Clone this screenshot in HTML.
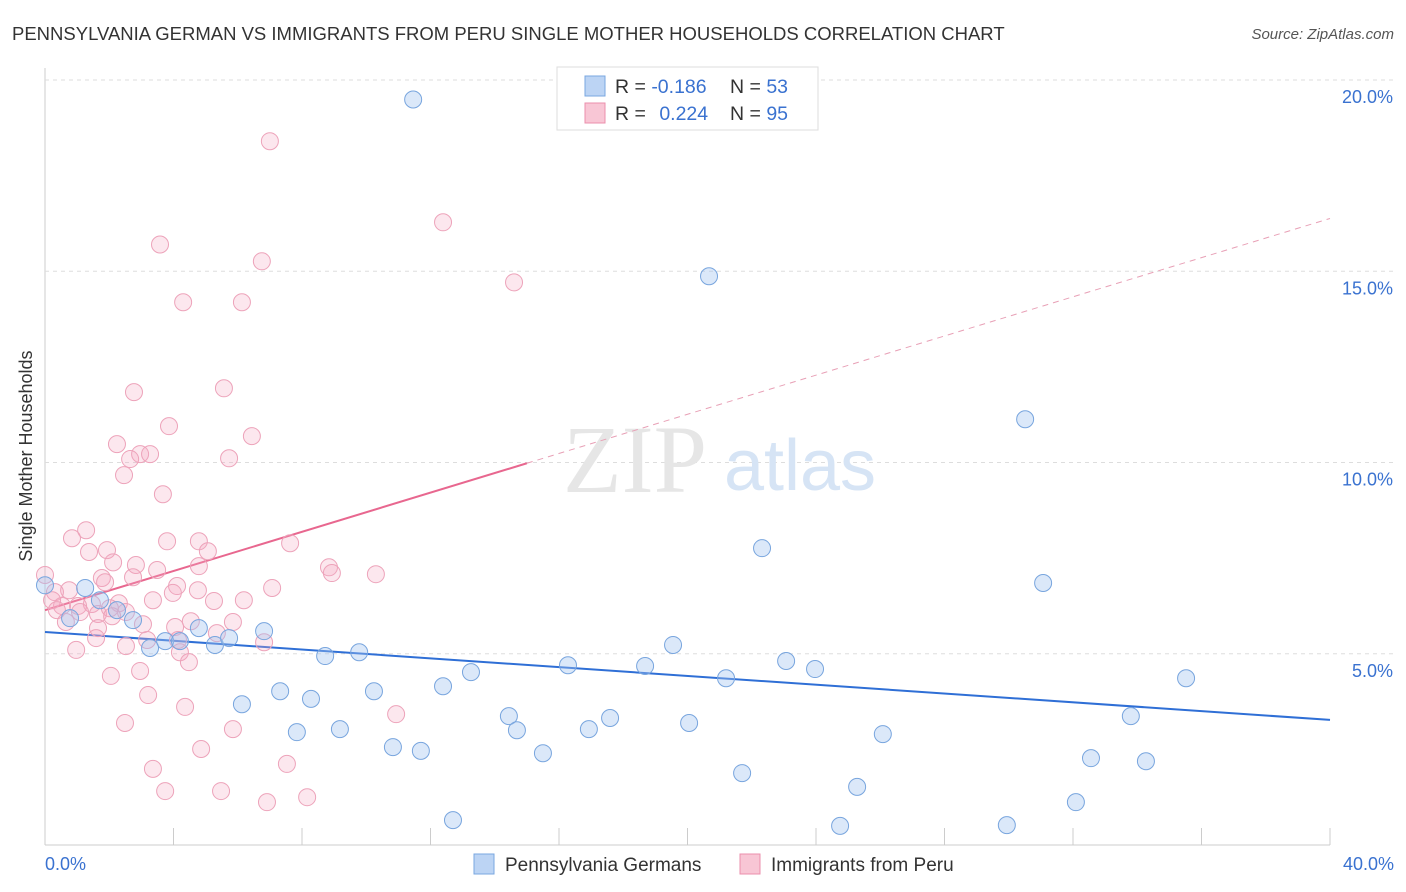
<!DOCTYPE html>
<html><head><meta charset="utf-8">
<style>
body{margin:0;background:#fff;font-family:"Liberation Sans",sans-serif;}
svg{display:block}
</style></head>
<body>
<svg id="chart" width="1406" height="892">
<text x="12" y="40" font-size="18.5" fill="#333">PENNSYLVANIA GERMAN VS IMMIGRANTS FROM PERU SINGLE MOTHER HOUSEHOLDS CORRELATION CHART</text>
<text x="1394" y="39" font-size="15" fill="#555" font-style="italic" text-anchor="end">Source: ZipAtlas.com</text>
<text x="32" y="456" font-size="18" fill="#333" text-anchor="middle" transform="rotate(-90 32 456)">Single Mother Households</text>
<g id="grid"></g>
<g>
<text x="635" y="492" font-size="96" fill="#e6e6e6" font-family="Liberation Serif,serif" text-anchor="middle">ZIP</text>
<text x="800" y="490" font-size="72" fill="#d6e4f5" text-anchor="middle">atlas</text>
</g>
<g id="lines"></g>
<g id="points"></g>
<g>
<rect x="557" y="67" width="261" height="63" fill="#fff" stroke="#ddd"/>
<rect x="585" y="76" width="20" height="20" fill="#bcd4f4" stroke="#7aa7e0"/>
<rect x="585" y="103" width="20" height="20" fill="#f8c6d5" stroke="#eb8fac"/>
<text x="615" y="93" font-size="19.5" fill="#333">R = <tspan fill="#3a72d0">-0.186</tspan></text>
<text x="730" y="93" font-size="19.5" fill="#333">N = <tspan fill="#3a72d0">53</tspan></text>
<text x="615" y="120" font-size="19.5" fill="#333">R = <tspan fill="#3a72d0" dx="8">0.224</tspan></text>
<text x="730" y="120" font-size="19.5" fill="#333">N = <tspan fill="#3a72d0">95</tspan></text>
</g>
<g>
<rect x="474" y="854" width="20" height="20" fill="#bcd4f4" stroke="#7aa7e0"/>
<text x="505" y="871" font-size="19" fill="#333">Pennsylvania Germans</text>
<rect x="740" y="854" width="20" height="20" fill="#f8c6d5" stroke="#eb8fac"/>
<text x="771" y="871" font-size="19" fill="#333">Immigrants from Peru</text>
</g>
<text x="45" y="870" font-size="18" fill="#3a72d0">0.0%</text>
<text x="1394" y="870" font-size="18" fill="#3a72d0" text-anchor="end">40.0%</text>
</svg>
<script>
const yTicks=[5,10,15,20];
const yTickLabels=["5.0%","10.0%","15.0%","20.0%"];
const xTicks=[0,4,8,12,16,20,24,28,32,36,40];
const blueX=[11.46,20.67,30.51,22.32,31.07,0,1.25,1.71,2.24,2.74,0.78,3.74,4.2,4.79,5.29,5.73,6.82,3.27,8.72,9.78,19.55,16.28,18.68,23.07,23.97,13.26,21.2,12.39,35.52,7.32,8.28,10.24,6.13,14.44,17.59,33.8,7.84,9.18,14.69,16.93,20.05,26.08,10.83,11.7,15.5,32.56,34.27,21.7,25.28,32.09,12.7,24.75,29.94];
const blueY=[19.49,14.87,11.13,7.76,6.85,6.79,6.72,6.4,6.14,5.88,5.93,5.33,5.33,5.67,5.23,5.41,5.59,5.15,4.94,5.04,5.23,4.7,4.68,4.81,4.6,4.52,4.36,4.15,4.36,4.02,3.82,4.02,3.68,3.37,3.32,3.37,2.95,3.03,3,3.03,3.19,2.9,2.56,2.46,2.4,2.27,2.19,1.88,1.52,1.12,0.65,0.5,0.52];
const pinkX=[7,12.39,3.58,6.75,14.6,4.3,6.13,2.77,5.57,3.86,6.44,2.24,2.96,3.27,2.65,5.73,2.46,3.67,1.28,0.84,3.8,4.79,7.63,1.37,1.93,5.07,2.83,2.12,4.79,8.84,3.49,10.3,8.93,0,1.77,2.74,1.87,4.11,0.75,7.07,0.31,4.76,3.98,0.22,6.19,5.26,3.36,2.3,1.46,0.53,1.03,0.37,2.52,1.65,2.02,1.09,0.65,3.05,4.05,4.54,5.85,1.65,2.09,1.59,3.18,2.52,4.14,5.35,6.82,4.2,0.97,4.48,2.96,2.05,3.21,4.36,10.93,2.49,5.85,4.86,7.53,3.36,3.74,5.48,8.16,6.91];
const pinkY=[18.4,16.28,15.7,15.26,14.71,14.19,14.19,11.84,11.94,10.95,10.69,10.48,10.22,10.22,10.09,10.11,9.67,9.17,8.23,8.02,7.94,7.94,7.89,7.66,7.71,7.68,7.32,7.39,7.29,7.26,7.19,7.08,7.11,7.06,6.98,7,6.87,6.77,6.66,6.72,6.61,6.66,6.59,6.4,6.4,6.38,6.4,6.32,6.3,6.25,6.25,6.14,6.09,6.04,6.19,6.09,5.83,5.77,5.7,5.85,5.83,5.67,5.98,5.41,5.36,5.2,5.36,5.54,5.3,5.04,5.1,4.78,4.55,4.42,3.92,3.61,3.42,3.19,3.03,2.51,2.12,1.99,1.41,1.41,1.25,1.12];
const blueTrend=[5.57,3.27];
const pinkTrend=[6.14,16.38];
const pinkSolidEnd=15;
const NS="http://www.w3.org/2000/svg";
const sx=v=>45+v/40*1285;
const sy=v=>845-v/5*191.25;
function mk(tag,attrs,parent){const e=document.createElementNS(NS,tag);for(const k in attrs)e.setAttribute(k,attrs[k]);parent.appendChild(e);return e;}
const grid=document.getElementById('grid');
const ax=mk('line',{x1:45,y1:68,x2:45,y2:845,stroke:'#ccc'},grid);


const bx=mk('line',{x1:45,y1:845,x2:1330,y2:845,stroke:'#ccc'},grid);


yTicks.forEach((t,i)=>{
 const g=mk('line',{x1:45,x2:1394,y1:sy(t),y2:sy(t),stroke:'#ddd','stroke-dasharray':'4,4'},grid);
 
 
 const tx=mk('text',{x:1393,y:sy(t)+23,'font-size':18,fill:'#3a72d0','text-anchor':'end'},grid);
 tx.textContent=yTickLabels[i];
 
 
});
xTicks.forEach(t=>{
 const l=mk('line',{x1:sx(t),x2:sx(t),y1:828,y2:845,stroke:'#ccc'},grid);
 
 
});
const lines=document.getElementById('lines');
const bl=mk('line',{x1:sx(0),y1:sy(blueTrend[0]),x2:sx(40),y2:sy(blueTrend[1]),stroke:'#2f6fd6','stroke-width':2},lines);


const pAt=x=>pinkTrend[0]+(pinkTrend[1]-pinkTrend[0])*x/40;
const pl=mk('line',{x1:sx(0),y1:sy(pAt(0)),x2:sx(pinkSolidEnd),y2:sy(pAt(pinkSolidEnd)),stroke:'#e8678f','stroke-width':2},lines);


const pd=mk('line',{x1:sx(pinkSolidEnd),y1:sy(pAt(pinkSolidEnd)),x2:sx(40),y2:sy(pAt(40)),stroke:'#e8a0b6','stroke-width':1,'stroke-dasharray':'6,5'},lines);


const pts=document.getElementById('points');
pinkX.forEach((x,i)=>{
 const c=mk('circle',{cx:sx(x),cy:sy(pinkY[i]),r:8.5,fill:'rgba(245,170,195,0.28)',stroke:'#eda3ba','stroke-width':1},pts);
 
 
});
blueX.forEach((x,i)=>{
 const c=mk('circle',{cx:sx(x),cy:sy(blueY[i]),r:8.5,fill:'rgba(160,195,240,0.38)',stroke:'#78a5de','stroke-width':1},pts);
 
 
});
</script>
</body></html>
